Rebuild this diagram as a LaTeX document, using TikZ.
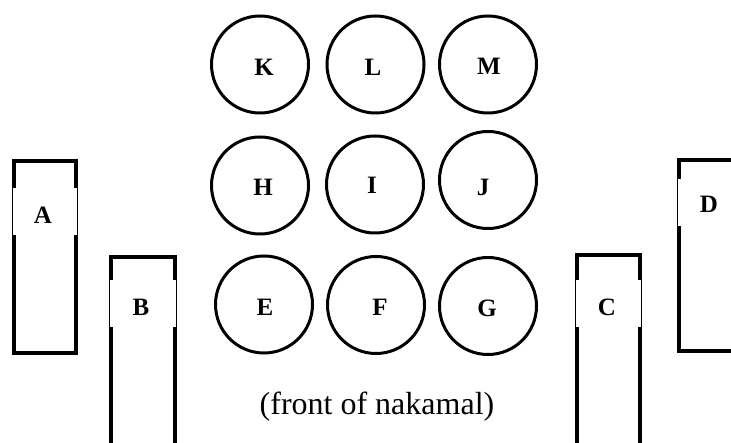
\documentclass[tikz,border=0pt]{standalone}
\usepackage{fontspec}
\setmainfont{Liberation Serif}
\begin{document}
\begin{tikzpicture}[x=1pt,y=-1pt,
  seat/.style={draw=black,line width=3pt,circle,minimum size=97pt,inner sep=0pt},
  lab/.style={inner sep=0pt,font=\bfseries\fontsize{25}{25}\selectfont},
  bench/.style={draw=black,line width=3.2pt},
  gap/.style={fill=white,inner sep=0pt,minimum height=47pt}]
\useasboundingbox (0,0) rectangle (731,443);
\clip (0,0) rectangle (731,443);
% benches
\draw[bench] (14,161) rectangle (76,353);
\node[gap,minimum width=64pt] (Ag) at (45,211.5) {};
\node[lab] (A) at (43,215.5) {A};
\draw[bench] (111,257) rectangle (175,460);
\node[gap,minimum width=66pt] (Bg) at (143,304) {};
\node[lab] (B) at (141,307.5) {B};
\draw[bench] (577,255) rectangle (640,460);
\node[gap,minimum width=65pt] (Cg) at (608.5,303.5) {};
\node[lab] (C) at (607,307) {C};
\draw[bench] (679,160) rectangle (760,351);
\node[gap,minimum width=62pt] (Dg) at (709,203) {};
\node[lab] (D) at (709,204) {D};
% seats
\node[seat] (K) at (260,64.5) {};
\node[seat] (L) at (375.5,64.5) {};
\node[seat] (M) at (488,64.5) {};
\node[seat] (H) at (260,185.5) {};
\node[seat] (I) at (375,184.5) {};
\node[seat] (J) at (488,180) {};
\node[seat] (E) at (264,304.5) {};
\node[seat] (F) at (376,305) {};
\node[seat] (G) at (488,306) {};
\node[lab] (Kt) at (264,67) {K};
\node[lab] (Lt) at (373,67.5) {L};
\node[lab] (Mt) at (489,66.5) {M};
\node[lab] (Ht) at (263,187) {H};
\node[lab] (It) at (372,185.5) {I};
\node[lab] (Jt) at (483,187) {J};
\node[lab] (Et) at (265,307) {E};
\node[lab] (Ft) at (380,307) {F};
\node[lab] (Gt) at (487,308) {G};
\node[font=\fontsize{32}{32}\selectfont,anchor=base,inner sep=0pt] (front) at (377,415) {(front of nakamal)};
\end{tikzpicture}
\end{document}
